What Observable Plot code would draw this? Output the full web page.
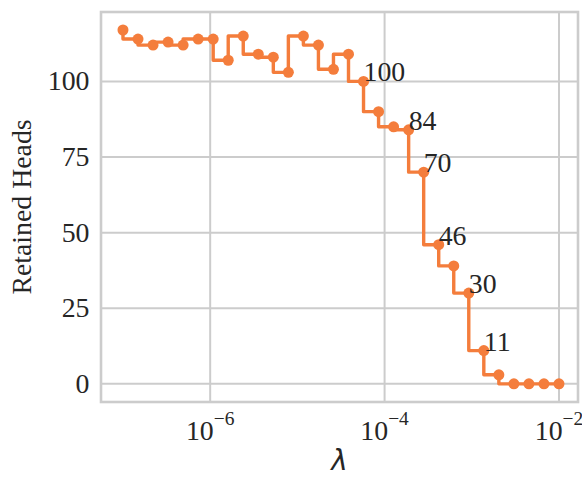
<!DOCTYPE html>
<html>
<head>
<meta charset="utf-8">
<script src="https://cdn.jsdelivr.net/npm/d3@7"></script>
<script src="https://cdn.jsdelivr.net/npm/@observablehq/plot@0.6"></script>
<style>
  html, body { margin: 0; padding: 0; background: white; }
</style>
</head>
<body>
<div id="chart"></div>
<script>
// lambda values: 30 log-spaced points from 1e-7 to 1e-2
const lambdaExps = [-7.0000, -6.8276, -6.6552, -6.4828, -6.3103, -6.1379, -5.9655, -5.7931, -5.6207, -5.4483,
                    -5.2759, -5.1034, -4.9310, -4.7586, -4.5862, -4.4138, -4.2414, -4.0690, -3.8966, -3.7241,
                    -3.5517, -3.3793, -3.2069, -3.0345, -2.8621, -2.6897, -2.5172, -2.3448, -2.1724, -2.0000];
const retainedHeads = [117, 114, 112, 113, 112, 114, 114, 107, 115, 109,
                       108, 103, 115, 112, 104, 109, 100, 90, 85, 84,
                       70, 46, 39, 30, 11, 3, 0, 0, 0, 0];
// annotated points (index into the series) and their labels
const annotatedIdx = [16, 19, 20, 21, 23, 24];
const annotatedText = ["100", "84", "70", "46", "30", "11"];
const xTickExps = [-6, -4, -2];
const yTicks = [0, 25, 50, 75, 100];
const yLabel = "Retained Heads";
const xLabel = "λ";

const data = lambdaExps.map((e, i) => ({lambda: Math.pow(10, e), heads: retainedHeads[i]}));
const ann = annotatedIdx.map((idx, k) => ({lambda: data[idx].lambda, heads: data[idx].heads, label: annotatedText[k]}));
const xTicks = xTickExps.map(e => Math.pow(10, e));

const color = "#f47d3c";
const gridColor = "#cccccc";

const chart = Plot.plot({
  width: 582,
  height: 477,
  marginLeft: 100.5,
  marginRight: 4.5,
  marginTop: 11.5,
  marginBottom: 75.5,
  style: {fontFamily: "'Liberation Serif', 'Times New Roman', serif", fontSize: "27.8px", color: "#262626", background: "white", overflow: "visible"},
  x: {type: "log", domain: [Math.pow(10, -7.252), Math.pow(10, -1.782)], ticks: xTicks, tickSize: 0, tickPadding: 18, label: null, tickFormat: () => "10"},
  y: {domain: [-6.0, 122.95], ticks: yTicks, tickSize: 0, tickPadding: 11.5, label: null},
  marks: [
    Plot.ruleY(yTicks, {stroke: gridColor, strokeWidth: 2}),
    Plot.ruleX(xTicks, {stroke: gridColor, strokeWidth: 2}),
    Plot.frame({stroke: gridColor, strokeWidth: 2.6}),
    Plot.line(data, {x: "lambda", y: "heads", curve: "step-before", stroke: color, strokeWidth: 3.4}),
    Plot.dot(data, {x: "lambda", y: "heads", r: 5.5, fill: color, stroke: "none"}),
    Plot.text(ann, {x: "lambda", y: "heads", text: "label", textAnchor: "start", lineAnchor: "bottom", dx: 0}),
    Plot.text([yLabel], {frameAnchor: "left", rotate: -90, dx: -70.5, textAnchor: "middle", lineAnchor: "bottom"}),
    Plot.text([xLabel], {frameAnchor: "bottom", dy: 68, textAnchor: "middle", lineAnchor: "bottom", fontFamily: "'DejaVu Sans', sans-serif", fontStyle: "italic"})
  ]
});

// superscript exponents on the x tick labels
d3.select(chart).selectAll('g[aria-label="x-axis tick label"] text').each(function(d, i) {
  const t = d3.select(this);
  t.append("tspan").attr("dy", -14.4).attr("font-size", "0.7em").text("\u2212" + Math.abs(xTickExps[i]));
});

document.getElementById("chart").appendChild(chart);
</script>
</body>
</html>
